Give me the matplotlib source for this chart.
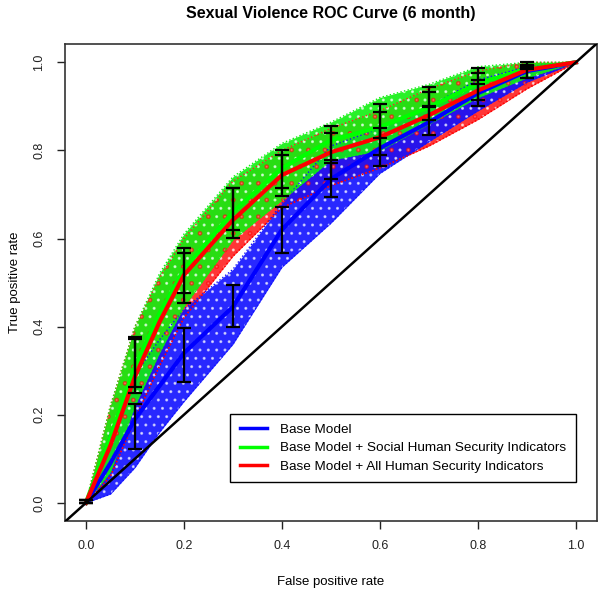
import numpy as np
import matplotlib
matplotlib.use("Agg")
import matplotlib.pyplot as plt

# fpr grid for the curves
fpr = [0, 0.05, 0.1, 0.15, 0.2, 0.3, 0.4, 0.5, 0.6, 0.7, 0.8, 0.9, 1.0]

# averaged ROC curves
blue_mean = [0, 0.09, 0.19, 0.265, 0.34, 0.445, 0.62, 0.735, 0.805, 0.864, 0.93, 0.98, 1.0]
green_mean = [0, 0.15, 0.31, 0.43, 0.53, 0.66, 0.76, 0.823, 0.853, 0.898, 0.952, 0.985, 1.0]
red_mean = [0, 0.13, 0.286, 0.41, 0.517, 0.642, 0.744, 0.796, 0.83, 0.88, 0.936, 0.983, 1.0]

# spread of the bootstrap curves (lower / upper)
blue_lo = [0, 0.02, 0.08, 0.16, 0.23, 0.36, 0.535, 0.635, 0.748, 0.82, 0.89, 0.955, 1.0]
blue_hi = [0, 0.16, 0.29, 0.37, 0.44, 0.53, 0.68, 0.81, 0.85, 0.90, 0.96, 0.99, 1.0]
green_lo = [0, 0.07, 0.22, 0.34, 0.445, 0.597, 0.687, 0.778, 0.80, 0.86, 0.92, 0.965, 1.0]
green_hi = [0, 0.22, 0.40, 0.52, 0.61, 0.74, 0.816, 0.864, 0.92, 0.95, 0.99, 1.0, 1.0]
red_lo = [0, 0.06, 0.19, 0.31, 0.42, 0.56, 0.67, 0.72, 0.76, 0.81, 0.87, 0.94, 1.0]
red_hi = [0, 0.22, 0.40, 0.51, 0.60, 0.73, 0.80, 0.85, 0.89, 0.94, 0.98, 1.0, 1.0]

# error bars at fpr 0, 0.1, ..., 0.9
bar_x = [0, 0.1, 0.2, 0.3, 0.4, 0.5, 0.6, 0.7, 0.8, 0.9]
green_bar_lo = [0, 0.263, 0.476, 0.619, 0.714, 0.778, 0.828, 0.898, 0.959, 0.985]
green_bar_hi = [0.006, 0.376, 0.578, 0.714, 0.800, 0.855, 0.905, 0.943, 0.986, 1.0]
red_bar_lo = [0, 0.249, 0.454, 0.601, 0.696, 0.735, 0.79, 0.868, 0.914, 0.964]
red_bar_hi = [0.006, 0.372, 0.567, 0.714, 0.789, 0.839, 0.887, 0.932, 0.975, 0.995]
blue_bar_lo = [0, 0.122, 0.274, 0.399, 0.567, 0.694, 0.764, 0.834, 0.900, 0.964]
blue_bar_hi = [0.006, 0.224, 0.397, 0.494, 0.671, 0.771, 0.85, 0.90, 0.95, 0.99]

labels = ["Base Model",
          "Base Model + Social Human Security Indicators",
          "Base Model + All Human Security Indicators"]

plt.rcParams['font.family'] = ['Liberation Sans', 'DejaVu Sans']
plt.rcParams['hatch.linewidth'] = 1.0

fig = plt.figure(figsize=(6, 5.9), dpi=100)
ax = fig.add_axes([0.108, 0.117, 0.887, 0.808])

# bootstrap clouds (red under blue under green)
for lo, hi, col in [(red_lo, red_hi, '#ff2020'), (blue_lo, blue_hi, '#1010ff'),
                    (green_lo, green_hi, '#10f010')]:
    ax.fill_between(fpr, lo, hi, color=col, alpha=0.9, lw=0)
    ax.fill_between(fpr, lo, hi, facecolor='none', edgecolor='white', hatch='..', lw=0, alpha=0.6)
    ax.plot(fpr, lo, color=col, ls=':', lw=1.0)
    ax.plot(fpr, hi, color=col, ls=':', lw=1.0)

# red speckles showing through the other clouds
ax.fill_between(fpr, red_lo, red_hi, facecolor='none', edgecolor='#ff0000', hatch='.', lw=0, alpha=0.55)
ax.plot(fpr, red_lo, color='#ff0000', ls=':', lw=1.0)

# mean curves
ax.plot(fpr, blue_mean, color='#0000ff', lw=3, label=labels[0])
ax.plot(fpr, green_mean, color='#00ff00', lw=3, label=labels[1])
ax.plot(fpr, red_mean, color='#ff0000', lw=3, label=labels[2])

# error bars
for lo, hi in [(green_bar_lo, green_bar_hi), (red_bar_lo, red_bar_hi), (blue_bar_lo, blue_bar_hi)]:
    lo = np.array(lo)
    hi = np.array(hi)
    ax.errorbar(bar_x, (lo + hi) / 2, yerr=(hi - lo) / 2, fmt='none', ecolor='black',
                elinewidth=1.6, capsize=5, capthick=1.6, zorder=5)

# chance line
ax.plot([-0.1, 1.1], [-0.1, 1.1], color='black', lw=1.8, zorder=4)

ax.set_xlim(-0.043, 1.043)
ax.set_ylim(-0.041, 1.041)
ax.set_xticks([0, 0.2, 0.4, 0.6, 0.8, 1.0])
ax.set_yticks([0, 0.2, 0.4, 0.6, 0.8, 1.0])
ax.set_xticklabels(['0.0', '0.2', '0.4', '0.6', '0.8', '1.0'])
ax.set_yticklabels(['0.0', '0.2', '0.4', '0.6', '0.8', '1.0'], rotation=90, va='center')
ax.tick_params(length=6, width=1, labelsize=9, pad=8, colors='#222222')
for s in ax.spines.values():
    s.set_linewidth(1.2)
    s.set_color('#333333')

ax.set_xlabel('False positive rate', fontsize=9.5, labelpad=17)
ax.set_ylabel('True positive rate', fontsize=9.5, labelpad=9)
ax.set_title('Sexual Violence ROC Curve (6 month)', fontsize=11.5, fontweight='bold', pad=19)

leg = ax.legend(loc='lower right', bbox_to_anchor=(0.973, 0.067), fontsize=9.7, frameon=True,
                fancybox=False, edgecolor='black', handlelength=2.0, borderpad=0.7,
                labelspacing=0.45, handletextpad=1.0, framealpha=1)
leg.get_frame().set_linewidth(1)
for h in leg.get_lines():
    h.set_linewidth(2.5)

fig.savefig('out.png', dpi=100)
